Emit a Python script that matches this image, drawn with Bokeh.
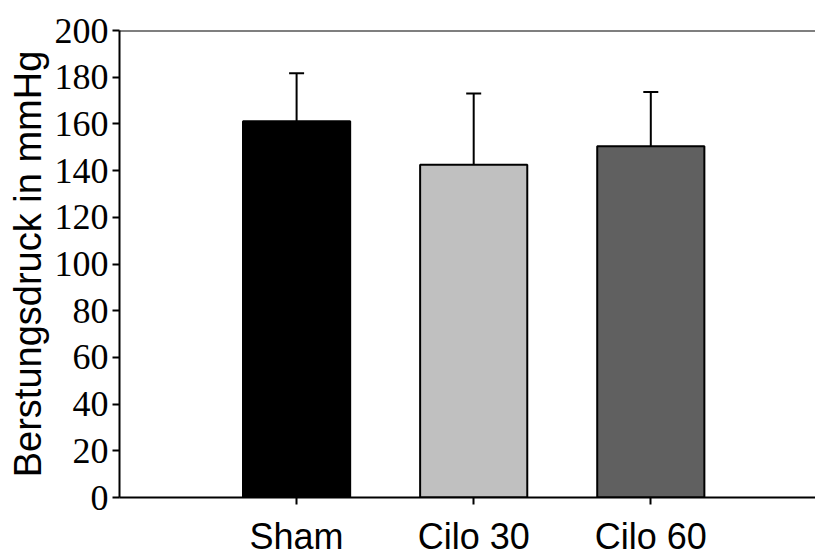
from bokeh.plotting import figure
from bokeh.models import ColumnDataSource, Whisker, TeeHead, FixedTicker, Span, Range1d
from bokeh.embed import file_html
from bokeh.resources import INLINE

categories = ["Sham", "Cilo 30", "Cilo 60"]
means = [161.1, 142.5, 150.4]
errors = [20.6, 30.5, 23.3]
colors = ["#000000", "#c0c0c0", "#606060"]
y_ticks = [0, 20, 40, 60, 80, 100, 120, 140, 160, 180, 200]

xs = [i + 1 for i in range(len(categories))]
src = ColumnDataSource(dict(
    x=xs, top=means, color=colors,
    upper=[m + e for m, e in zip(means, errors)],
))

p = figure(width=815, height=559, output_backend="svg", toolbar_location=None,
           x_range=Range1d(0, 3.93), y_range=Range1d(0, 200),
           min_border_left=119, min_border_top=30, min_border_bottom=62,
           min_border_right=0)
p.outline_line_color = None
p.xgrid.visible = False
p.ygrid.visible = False
p.background_fill_color = "white"

p.vbar(x="x", top="top", width=0.605, bottom=0, fill_color="color",
       line_color="black", line_width=2, source=src)

w = Whisker(base="x", upper="upper", lower="top", source=src,
            line_color="black", line_width=2,
            upper_head=TeeHead(size=15, line_width=2, line_color="black"),
            lower_head=None)
p.add_layout(w)

p.add_layout(Span(location=200, dimension="width", line_color="black", line_width=2))

# y axis
p.yaxis.ticker = FixedTicker(ticks=y_ticks)
p.yaxis.minor_tick_line_color = None
p.yaxis.major_tick_in = 0
p.yaxis.major_tick_out = 7
p.yaxis.major_tick_line_width = 2
p.yaxis.axis_line_width = 2
p.yaxis.major_label_text_font = "Liberation Serif"
p.yaxis.major_label_text_font_size = "36px"
p.yaxis.major_label_text_color = "black"
p.yaxis.major_label_standoff = 4
p.yaxis.axis_label = "Berstungsdruck in mmHg"
p.yaxis.axis_label_text_font = "Liberation Sans"
p.yaxis.axis_label_text_font_size = "38px"
p.yaxis.axis_label_text_font_style = "normal"
p.yaxis.axis_label_text_color = "black"
p.yaxis.axis_label_standoff = 3

# x axis
p.xaxis.ticker = FixedTicker(ticks=xs)
p.xaxis.major_label_overrides = {x: c for x, c in zip(xs, categories)}
p.xaxis.minor_tick_line_color = None
p.xaxis.major_tick_in = 0
p.xaxis.major_tick_out = 7
p.xaxis.major_tick_line_width = 2
p.xaxis.axis_line_width = 2
p.xaxis.major_label_text_font = "Liberation Sans"
p.xaxis.major_label_text_font_size = "36px"
p.xaxis.major_label_text_color = "black"
p.xaxis.major_label_standoff = 11

open("out.html", "w").write(file_html(p, INLINE))
